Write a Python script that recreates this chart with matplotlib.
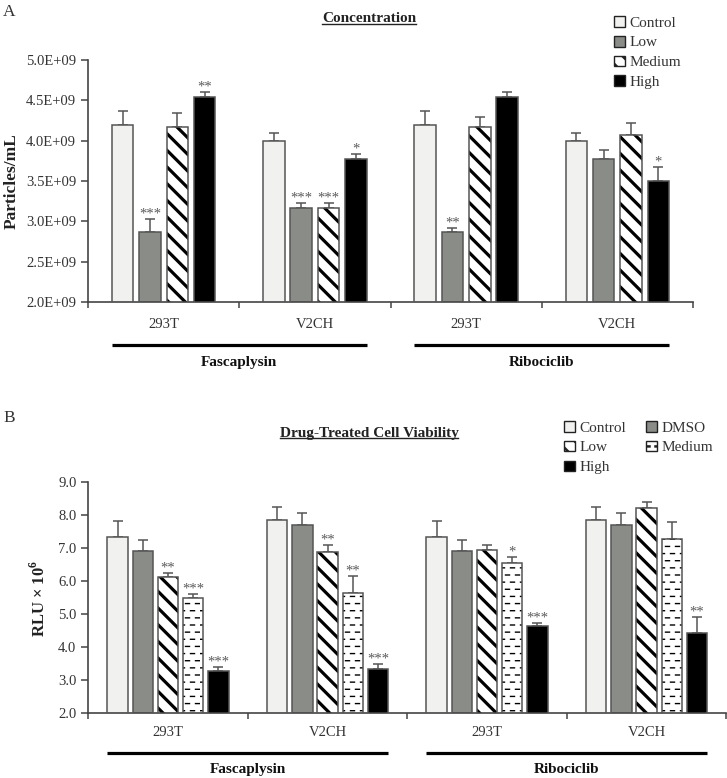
import warnings
warnings.filterwarnings('ignore')
import numpy as np
import matplotlib
matplotlib.use('Agg')
import matplotlib.pyplot as plt
import matplotlib.hatch as mhatch
import matplotlib.transforms as mtrans
from matplotlib.path import Path
from matplotlib.patches import Patch
from matplotlib.lines import Line2D
from matplotlib.ticker import FuncFormatter

plt.rcParams['font.family'] = ['Liberation Serif', 'DejaVu Serif']
plt.rcParams['mathtext.fontset'] = 'custom'
plt.rcParams['mathtext.rm'] = 'Liberation Serif'
plt.rcParams['mathtext.bf'] = 'Liberation Serif:bold'

# ---------------- data ----------------
cells = ['293T', 'V2CH', '293T', 'V2CH']
drugs = ['Fascaplysin', 'Ribociclib']

# Panel A: Concentration (particles/mL)
conc_series = ['Control', 'Low', 'Medium', 'High']
conc_control = [4.20e9, 4.00e9, 4.20e9, 4.00e9]
conc_low = [2.87e9, 3.17e9, 2.87e9, 3.77e9]
conc_medium = [4.17e9, 3.17e9, 4.17e9, 4.07e9]
conc_high = [4.54e9, 3.77e9, 4.54e9, 3.50e9]
conc_control_err = [0.17e9, 0.10e9, 0.17e9, 0.10e9]
conc_low_err = [0.16e9, 0.06e9, 0.05e9, 0.11e9]
conc_medium_err = [0.17e9, 0.06e9, 0.12e9, 0.15e9]
conc_high_err = [0.06e9, 0.06e9, 0.06e9, 0.17e9]
conc_control_sig = ['', '', '', '']
conc_low_sig = ['***', '***', '**', '']
conc_medium_sig = ['', '***', '', '']
conc_high_sig = ['**', '*', '', '*']

# Panel B: Drug-treated cell viability (RLU x 10^6)
via_series = ['Control', 'DMSO', 'Low', 'Medium', 'High']
via_control = [7.32, 7.83, 7.32, 7.83]
via_dmso = [6.91, 7.69, 6.91, 7.69]
via_low = [6.13, 6.89, 6.94, 8.21]
via_medium = [5.50, 5.64, 6.54, 7.26]
via_high = [3.29, 3.35, 4.65, 4.42]
via_control_err = [0.50, 0.41, 0.50, 0.40]
via_dmso_err = [0.33, 0.37, 0.32, 0.37]
via_low_err = [0.12, 0.19, 0.16, 0.17]
via_medium_err = [0.10, 0.51, 0.19, 0.53]
via_high_err = [0.12, 0.15, 0.08, 0.50]
via_control_sig = ['', '', '', '']
via_dmso_sig = ['', '', '', '']
via_low_sig = ['**', '**', '', '']
via_medium_sig = ['***', '**', '*', '']
via_high_sig = ['***', '***', '***', '**']


# ---------------- custom dashed hatch ----------------
class DashHatch(mhatch.HatchPatternBase):
    def __init__(self, hatch, density):
        n = hatch.count('=')
        self.rows = 14 * n
        self.cols = 10 * n
        self.num_vertices = self.rows * self.cols * 2

    def set_vertices_and_codes(self, vertices, codes):
        k = 0
        for i in range(self.rows):
            y = (i + 0.5) / self.rows
            off = 0.0 if i % 2 == 0 else 0.5 / self.cols
            for j in range(self.cols):
                x0 = j / self.cols + off + 0.05 / self.cols
                vertices[k] = (x0, y)
                vertices[k + 1] = (x0 + 0.4 / self.cols, y)
                codes[k] = Path.MOVETO
                codes[k + 1] = Path.LINETO
                k += 2


mhatch._hatch_types.append(DashHatch)

EDGE = '#555555'
TXT = '#333333'
CTRL_FC = '#f1f2ef'
GREY_FC = '#8a8c88'
STRIPE = '\\\\'
DASH = '='

STYLES = {
    'Control': dict(fc=CTRL_FC, hatch=None, hlw=None),
    'Low_A': dict(fc=GREY_FC, hatch=None, hlw=None),
    'DMSO': dict(fc=GREY_FC, hatch=None, hlw=None),
    'Stripe': dict(fc='white', hatch=STRIPE, hlw=2.3),
    'Dash': dict(fc='white', hatch=DASH, hlw=1.0),
    'High': dict(fc='black', hatch=None, hlw=None),
}

fig = plt.figure(figsize=(7.27, 7.78), dpi=100)
fig.patch.set_facecolor('white')


def draw_series(ax, x, vals, errs, sigs, width, style):
    st = STYLES[style]
    plt.rcParams['hatch.linewidth'] = st['hlw'] if st['hlw'] else 1.0
    bars = ax.bar(x, vals, width, color=st['fc'],
                  edgecolor='black' if st['hatch'] else st['fc'],
                  linewidth=0, hatch=st['hatch'], zorder=2)
    if st['hlw']:
        for b in bars:
            if hasattr(b, 'set_hatch_linewidth'):
                b.set_hatch_linewidth(st['hlw'])
    ax.bar(x, vals, width, fill=False, edgecolor=EDGE, linewidth=1.1, zorder=3)
    ax.errorbar(x, vals, yerr=[np.zeros(len(vals)), errs], fmt='none',
                ecolor=EDGE, elinewidth=1.1, capsize=3.5, capthick=1.1, zorder=1.5)
    for xi, v, e, s in zip(x, vals, errs, sigs):
        if s:
            ax.annotate(s, (xi, v + e), xytext=(0, 1.0), textcoords='offset points',
                        ha='center', va='baseline', fontsize=10.5, color='#5a5a5a')


def style_axes(ax, label_pad):
    for sp in ['top', 'right']:
        ax.spines[sp].set_visible(False)
    for sp in ['left', 'bottom']:
        ax.spines[sp].set_color('#444444')
        ax.spines[sp].set_linewidth(1.2)
    ax.set_xlim(-0.5, 3.5)
    ax.set_xticks([-0.5, 0.5, 1.5, 2.5, 3.5])
    ax.set_xticklabels([])
    ax.set_xticks(range(len(cells)), minor=True)
    ax.set_xticklabels(cells, minor=True)
    ax.tick_params(axis='x', which='major', direction='out', length=4, width=1.1, color='#444444')
    ax.tick_params(axis='x', which='minor', length=0, pad=label_pad, labelsize=10.5, labelcolor=TXT)
    ax.tick_params(axis='y', direction='out', length=5, width=1.1, color='#444444',
                   pad=3.5, labelsize=10.5, labelcolor=TXT)


def group_lines(ax, offsets, width, line_y, label_y):
    trans = mtrans.blended_transform_factory(ax.transData, ax.transAxes)
    for gi, drug in enumerate(drugs):
        left = 2 * gi + offsets[0] - width / 2
        right = 2 * gi + 1 + offsets[-1] + width / 2
        ax.plot([left, right], [line_y, line_y], transform=trans, color='black',
                lw=2.3, clip_on=False, solid_capstyle='butt')
        ax.text((left + right) / 2, label_y, drug, transform=trans, ha='center',
                va='center', fontweight='bold', fontsize=11, color='#111111')


# ---------------- Panel A ----------------
axA = fig.add_axes([88 / 727, 1 - 302 / 778, 605 / 727, 242 / 778])
xA = np.arange(len(cells))
wA, stepA = 0.142, 0.181
offA = (np.arange(4) - 1.5) * stepA
A_data = [(conc_control, conc_control_err, conc_control_sig, 'Control'),
          (conc_low, conc_low_err, conc_low_sig, 'Low_A'),
          (conc_medium, conc_medium_err, conc_medium_sig, 'Stripe'),
          (conc_high, conc_high_err, conc_high_sig, 'High')]
for k, (v, e, s, st) in enumerate(A_data):
    draw_series(axA, xA + offA[k], v, e, s, wA, st)
axA.set_ylim(2.0e9, 5.0e9)
axA.set_yticks(np.arange(2.0e9, 5.01e9, 0.5e9))
axA.yaxis.set_major_formatter(FuncFormatter(lambda v, p: f'{v:.1E}'))
style_axes(axA, 11.5)
group_lines(axA, offA, wA, -0.178, -0.248)

# ---------------- Panel B ----------------
axB = fig.add_axes([88.3 / 727, 1 - 713.3 / 778, 638 / 727, 231.6 / 778])
xB = np.arange(len(cells))
wB, stepB = 0.128, 0.158
offB = (np.arange(5) - 2) * stepB
B_data = [(via_control, via_control_err, via_control_sig, 'Control'),
          (via_dmso, via_dmso_err, via_dmso_sig, 'DMSO'),
          (via_low, via_low_err, via_low_sig, 'Stripe'),
          (via_medium, via_medium_err, via_medium_sig, 'Dash'),
          (via_high, via_high_err, via_high_sig, 'High')]
for k, (v, e, s, st) in enumerate(B_data):
    draw_series(axB, xB + offB[k], v, e, s, wB, st)
axB.set_ylim(2.0, 9.0)
axB.set_yticks(np.arange(2.0, 9.01, 1.0))
axB.yaxis.set_major_formatter(FuncFormatter(lambda v, p: f'{v:.1f}'))
style_axes(axB, 9.5)
group_lines(axB, offB, wB, -0.171, -0.244)


# ---------------- legends ----------------
def handle(style):
    st = STYLES[style]
    p = Patch(facecolor=st['fc'], edgecolor='#222222', hatch=st['hatch'], linewidth=1.0)
    return p


plt.rcParams['hatch.linewidth'] = 2.2
hA = [handle('Control'), handle('Low_A'), handle('Stripe'), handle('High')]
legA = fig.legend(hA, conc_series, loc='upper left', bbox_to_anchor=(614 / 727, 1 - 16 / 778),
                  frameon=False, fontsize=11, handlelength=0.7, handleheight=0.7,
                  handletextpad=0.3, labelspacing=0.4, borderpad=0, borderaxespad=0,
                  labelcolor=TXT)

plt.rcParams['hatch.linewidth'] = 1.8
hB = [handle('Control'), handle('Stripe'), handle('High'), handle('DMSO'), handle('Dash')]
labB = ['Control', 'Low', 'High', 'DMSO', 'Medium']
legB = fig.legend(hB, labB, loc='upper left', bbox_to_anchor=(564 / 727, 1 - 421 / 778),
                  ncol=2, frameon=False, fontsize=11, handlelength=0.7, handleheight=0.7,
                  handletextpad=0.3, labelspacing=0.4, columnspacing=1.3, borderpad=0,
                  borderaxespad=0, labelcolor=TXT)
for leg, lw in ((legA, 2.2), (legB, 1.8)):
    for p in leg.get_patches():
        if hasattr(p, 'set_hatch_linewidth'):
            p.set_hatch_linewidth(lw)

# ---------------- titles and labels ----------------
fig.text(3 / 727, 1 - 12 / 778, 'A', fontsize=12.5, color=TXT, va='center', ha='left')
fig.text(3 / 727, 1 - 418 / 778, 'B', fontsize=12.5, color=TXT, va='center', ha='left')
tA = fig.text(369 / 727, 1 - 19 / 778, 'Concentration', ha='center', va='center',
              fontweight='bold', fontsize=11, color='#222222')
tB = fig.text(369 / 727, 1 - 433 / 778, 'Drug-Treated Cell Viability', ha='center',
              va='center', fontweight='bold', fontsize=11, color='#222222')
fig.text(12 / 727, 1 - 181 / 778, 'Particles/mL', rotation=90, ha='center', va='center',
         fontweight='bold', fontsize=12.5, color='#222222')
fig.text(39 / 727, 1 - 598 / 778, r'RLU × 10$^{\mathbf{6}}$', rotation=90, ha='center',
         va='center', fontweight='bold', fontsize=12, color='#222222')

fig.canvas.draw()
r = fig.canvas.get_renderer()
for t in (tA, tB):
    bb = t.get_window_extent(r).transformed(fig.transFigure.inverted())
    fig.add_artist(Line2D([bb.x0, bb.x1], [bb.y0 + 0.002, bb.y0 + 0.002],
                          transform=fig.transFigure, color='#222222', lw=1.0))

fig.savefig('out.png', dpi=100, facecolor='white')
